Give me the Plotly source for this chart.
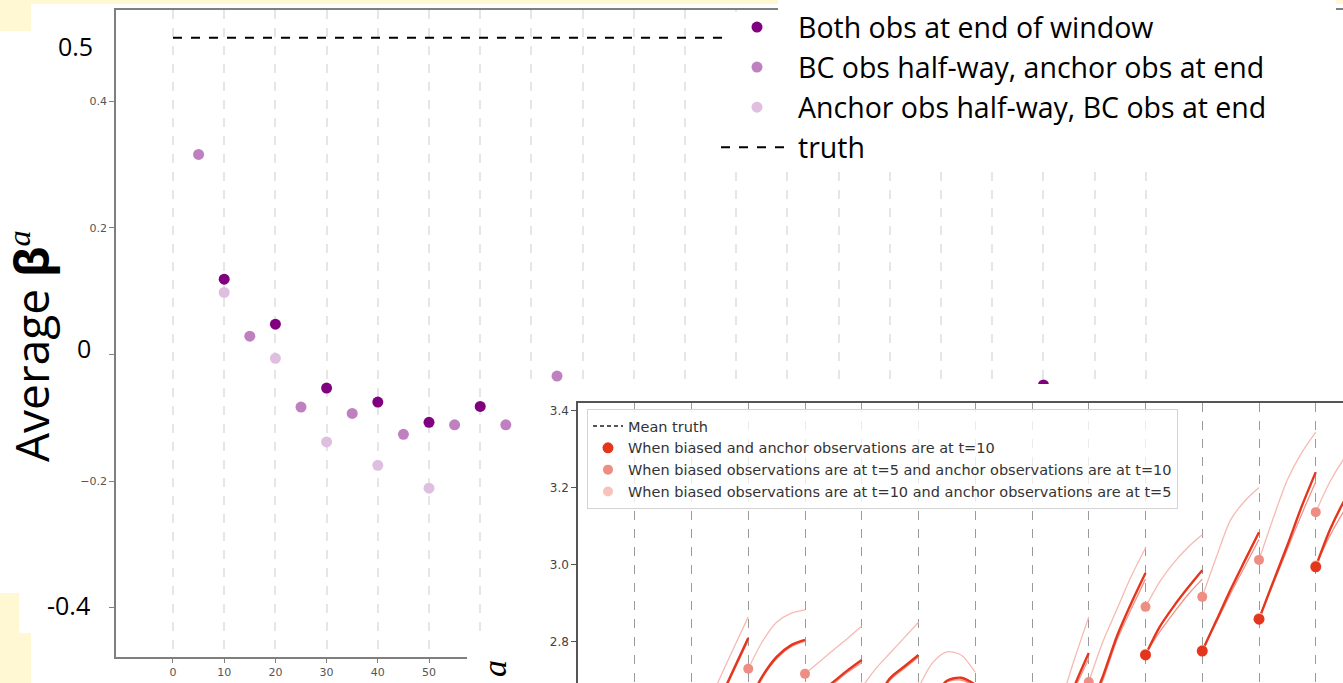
import plotly.graph_objects as go

W, H = 1343, 683

# ---------------- main panel: average beta^a per window length ----------------
window_ticks = list(range(0, 200, 10))
truth_value = 0.5

both_end_x = [10, 20, 30, 40, 50, 60, 170]
both_end_y = [0.119, 0.048, -0.053, -0.075, -0.107, -0.082, -0.048]
bc_half_x = [5, 15, 25, 35, 45, 55, 65, 75]
bc_half_y = [0.316, 0.029, -0.083, -0.093, -0.126, -0.111, -0.111, -0.034]
anchor_half_x = [10, 20, 30, 40, 50]
anchor_half_y = [0.098, -0.006, -0.138, -0.175, -0.211]

main_yticks = [0.4, 0.2, -0.2]
main_yticktext = ["0.4", "0.2", "\u22120.2"]
main_yminor = [0.0, -0.4]

# ---------------- inset: forecast trajectories within each window ----------------
window_starts = [20, 30, 40, 50, 60, 80, 90, 100, 110, 120, 130]
window_offsets = [0, 2.5, 5, 7.5, 10]
window_bounds = list(range(10, 140, 10))
inset_yticks = [2.8, 3.0, 3.2, 3.4]

traj_both_end = [
    [2.49, 2.57, 2.65, 2.73, 2.809],
    [2.64, 2.71, 2.76, 2.79, 2.804],
    [2.64, 2.665, 2.695, 2.725, 2.752],
    [2.62, 2.65, 2.705, 2.735, 2.765],
    [2.58, 2.65, 2.698, 2.706, 2.688],
    [2.42, 2.50, 2.58, 2.685, 2.77],
    [2.62, 2.71, 2.815, 2.90, 2.978],
    [2.765, 2.838, 2.892, 2.94, 2.985],
    [2.775, 2.855, 2.935, 3.01, 3.084],
    [2.858, 2.955, 3.05, 3.15, 3.24],
    [2.994, 3.09, 3.165, 3.225, 3.275],
]
traj_bc_half = [
    [2.54, 2.62, 2.705, 2.785, 2.864],
    [2.729, 2.80, 2.85, 2.873, 2.882],
    [2.716, 2.747, 2.778, 2.808, 2.840],
    [2.68, 2.73, 2.77, 2.81, 2.85],
    [2.68, 2.745, 2.773, 2.765, 2.72],
    [2.47, 2.54, 2.64, 2.755, 2.864],
    [2.695, 2.80, 2.885, 2.97, 3.043],
    [2.89, 2.955, 3.005, 3.045, 3.077],
    [2.916, 3.02, 3.116, 3.165, 3.20],
    [3.012, 3.12, 3.22, 3.29, 3.344],
    [3.136, 3.215, 3.275, 3.32, 3.36],
]
traj_anchor_half = [
    [2.485, 2.565, 2.645, 2.725, 2.802],
    [2.63, 2.705, 2.755, 2.786, 2.80],
    [2.635, 2.66, 2.69, 2.72, 2.745],
    [2.615, 2.645, 2.70, 2.73, 2.76],
    [2.575, 2.645, 2.695, 2.70, 2.683],
    [2.415, 2.495, 2.575, 2.675, 2.755],
    [2.61, 2.70, 2.805, 2.885, 2.962],
    [2.768, 2.825, 2.875, 2.922, 2.962],
    [2.778, 2.85, 2.925, 2.995, 3.065],
    [2.862, 2.95, 3.04, 3.13, 3.215],
    [2.998, 3.075, 3.14, 3.20, 3.25],
]

PURPLE = ["#800080", "#bf80bf", "#dfbfdf"]
RED_DOT = ["#e4361c", "#ee8d83", "#f6c4bd"]
RED_LINE = ["#e4361c", "#f6bab2", "#ef9389"]
YELLOW = "#fff8d2"


def px_x(p):
    return p / W


def px_y(p):
    return 1 - p / H


def flatten(traj):
    xs, ys = [], []
    for start, vals in zip(window_starts, traj):
        xs += [start + o for o in window_offsets] + [None]
        ys += list(vals) + [None]
    return xs, ys


fig = go.Figure()

# main panel
fig.add_trace(go.Scatter(
    x=[window_ticks[0], window_ticks[-1]], y=[truth_value, truth_value],
    mode="lines", line=dict(color="black", width=2, dash="dash"),
    name="truth", legendrank=4, legendgroup="g4", hoverinfo="skip"))
fig.add_trace(go.Scatter(
    x=anchor_half_x, y=anchor_half_y, mode="markers",
    marker=dict(color=PURPLE[2], size=11),
    name="Anchor obs half-way, BC obs at end", legendrank=3, legendgroup="g3"))
fig.add_trace(go.Scatter(
    x=bc_half_x, y=bc_half_y, mode="markers",
    marker=dict(color=PURPLE[1], size=11),
    name="BC obs half-way, anchor obs at end", legendrank=2, legendgroup="g2"))
fig.add_trace(go.Scatter(
    x=both_end_x, y=both_end_y, mode="markers",
    marker=dict(color=PURPLE[0], size=11),
    name="Both obs at end of window", legendrank=1, legendgroup="g1"))

# white panels over the main axes: legend panel (two parts) and inset panel
for ax in ("2", "3", "5"):
    fig.add_trace(go.Scatter(x=[None], y=[None], xaxis="x" + ax, yaxis="y" + ax,
                             showlegend=False, hoverinfo="skip"))

# inset trajectories
for traj, col, wid in ((traj_bc_half, RED_LINE[1], 1.3),
                       (traj_anchor_half, RED_LINE[2], 1.3),
                       (traj_both_end, RED_LINE[0], 2.4)):
    xs, ys = flatten(traj)
    fig.add_trace(go.Scatter(x=xs, y=ys, mode="lines", xaxis="x4", yaxis="y4",
                             line=dict(color=col, width=wid, shape="spline", smoothing=0.8),
                             showlegend=False, hoverinfo="skip"))

fig.add_trace(go.Scatter(
    x=[None], y=[None], mode="lines", xaxis="x4", yaxis="y4",
    line=dict(color="#555555", width=2, dash="4px,3px"),
    name="Mean truth", legend="legend2", legendrank=1))
for traj, col, size, name, rank in (
        (traj_anchor_half, RED_DOT[2], 10,
         "When biased observations are at t=10 and anchor observations are at t=5", 4),
        (traj_bc_half, RED_DOT[1], 10,
         "When biased observations are at t=5 and anchor observations are at t=10", 3),
        (traj_both_end, RED_DOT[0], 11,
         "When biased and anchor observations are at t=10", 2)):
    fig.add_trace(go.Scatter(
        x=window_starts, y=[v[0] for v in traj], mode="markers", xaxis="x4", yaxis="y4",
        marker=dict(color=col, size=size), name=name, legend="legend2", legendrank=rank))

hidden = dict(visible=False, showgrid=False, zeroline=False, fixedrange=True)

fig.update_layout(
    width=W, height=H,
    margin=dict(l=0, r=0, t=0, b=0),
    paper_bgcolor="white", plot_bgcolor="white",
    showlegend=True,
    xaxis=dict(
        domain=[px_x(116), 1.0], range=[-11.13, 228.5],
        tickvals=window_ticks, ticktext=[str(v) for v in window_ticks],
        showgrid=True, gridcolor="#e6e6e6", griddash="dash", gridwidth=1.5,
        showline=True, linecolor="#7f7f7f", linewidth=1.5, mirror=True,
        ticks="outside", ticklen=4, tickcolor="#7f7f7f",
        tickfont=dict(family="DejaVu Sans", size=11, color="#555555"),
        zeroline=False),
    yaxis=dict(
        domain=[px_y(657), px_y(10)], range=[-0.4776, 0.544],
        tickvals=main_yticks, ticktext=main_yticktext,
        minor=dict(tickvals=main_yminor, ticks="outside", ticklen=5,
                   tickcolor="#7f7f7f", showgrid=False),
        showgrid=False, showline=True, linecolor="#7f7f7f", linewidth=1.5,
        ticks="outside", ticklen=5, tickcolor="#7f7f7f",
        tickfont=dict(family="DejaVu Sans", size=11, color="#555555"),
        zeroline=False),
    xaxis2=dict(domain=[px_x(727), px_x(1336)], anchor="y2", **hidden),
    yaxis2=dict(domain=[px_y(172), px_y(12)], anchor="x2", **hidden),
    xaxis3=dict(domain=[px_x(525), 1.0], anchor="y3", **hidden),
    yaxis3=dict(domain=[0.0, px_y(384)], anchor="x3", **hidden),
    xaxis5=dict(domain=[px_x(778), px_x(1336)], anchor="y5", **hidden),
    yaxis5=dict(domain=[px_y(20), 1.0], anchor="x5", **hidden),
    xaxis4=dict(
        domain=[px_x(578), 1.0], range=[0, 134.8], anchor="y4", side="top",
        tickvals=window_bounds, showticklabels=False, ticks="",
        showgrid=True, gridcolor="#9a9a9a", griddash="dash", gridwidth=1.3,
        showline=True, linecolor="#555555", linewidth=1.5, zeroline=False),
    yaxis4=dict(
        domain=[0.0, px_y(403)], range=[2.6922, 3.4195], anchor="x4",
        tickvals=inset_yticks, ticktext=[f"{v:.1f}" for v in inset_yticks],
        showgrid=False, showline=True, linecolor="#555555", linewidth=1.5,
        ticks="outside", ticklen=5, tickcolor="#555555",
        tickfont=dict(family="DejaVu Sans", size=12, color="#444444"),
        zeroline=False),
    legend=dict(
        x=px_x(716), y=px_y(2), xanchor="left", yanchor="top",
        bgcolor="rgba(0,0,0,0)", borderwidth=0, itemwidth=72,
        font=dict(family="Open Sans", size=28.5, color="black"),
        tracegroupgap=0, itemsizing="trace"),
    legend2=dict(
        x=px_x(587), y=px_y(409), xanchor="left", yanchor="top",
        bgcolor="rgba(255,255,255,0.8)", bordercolor="#d4d4d4", borderwidth=1,
        font=dict(family="DejaVu Sans", size=14.5, color="#333333")),
)

# cream strips along the edges
for x0, y0, x1, y1 in ((0, 0, W, 4), (0, 0, 31, 31), (0, 593, 19, 633), (0, 633, 31, H)):
    fig.add_shape(type="rect", xref="paper", yref="paper",
                  x0=px_x(x0), x1=px_x(x1), y0=px_y(y1), y1=px_y(y0),
                  fillcolor=YELLOW, line=dict(width=0), layer="below")

# white patch behind the bottom axis label glyph
fig.add_shape(type="rect", xref="paper", yref="paper",
              x0=px_x(467), x1=px_x(525), y0=0, y1=px_y(640),
              fillcolor="white", line=dict(width=0), layer="above")

big = dict(family="Open Sans", size=25, color="black")
for txt, cx, cy in (("0.5", 75, 46), ("0", 84, 348), ("-0.4", 68, 605)):
    fig.add_annotation(x=px_x(cx), y=px_y(cy), xref="paper", yref="paper",
                       text=txt, showarrow=False, font=big, xanchor="center", yanchor="middle")

fig.add_annotation(
    x=px_x(31), y=px_y(347), xref="paper", yref="paper", textangle=-90,
    text="Average <b>\u03b2</b><sup><span style=\"font-family:'Liberation Serif'\"><i>a</i></span></sup>",
    showarrow=False, font=dict(family="Open Sans", size=46, color="black"),
    xanchor="center", yanchor="middle")
fig.add_annotation(
    x=px_x(494), y=px_y(668), xref="paper", yref="paper", textangle=-90,
    text="<i>a</i>", showarrow=False,
    font=dict(family="Liberation Serif", size=34, color="black"),
    xanchor="center", yanchor="middle")

fig.write_html("out.html")
